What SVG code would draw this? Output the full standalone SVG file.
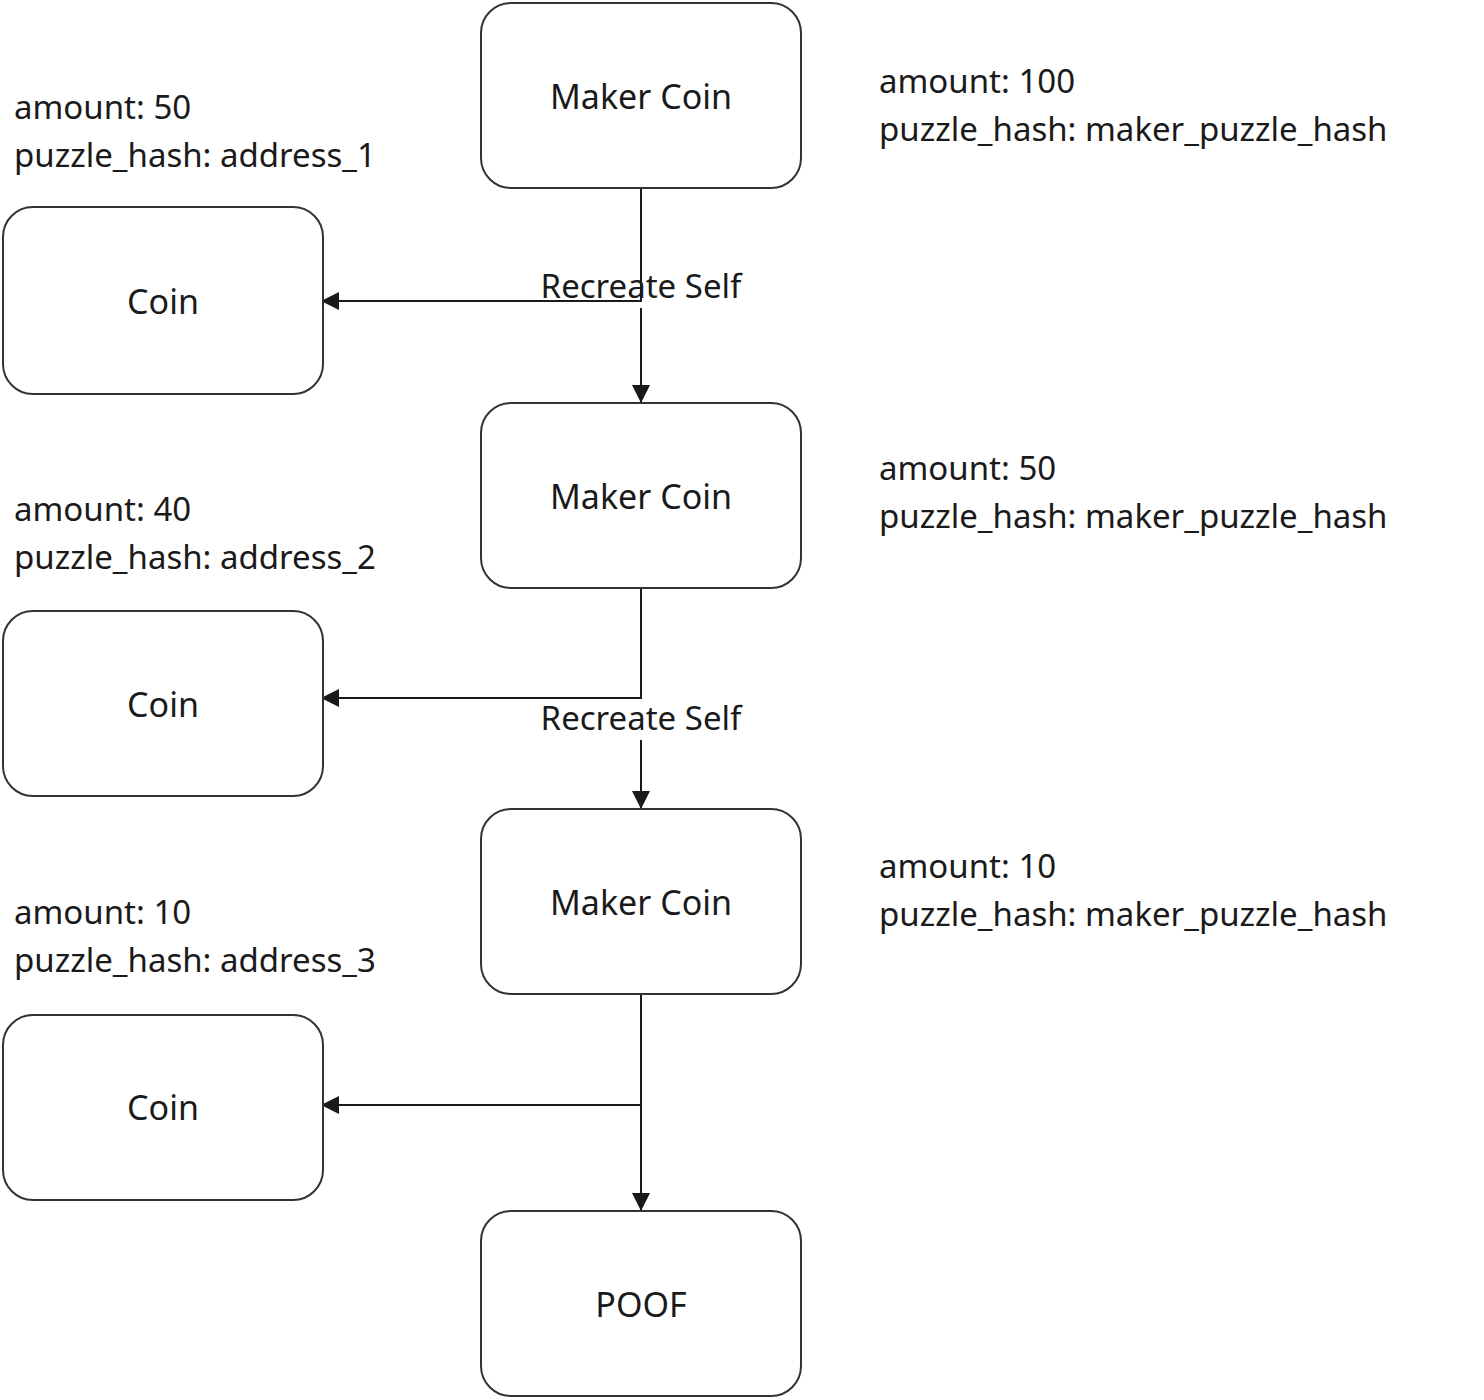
<svg xmlns="http://www.w3.org/2000/svg" width="1484" height="1400" viewBox="0 0 1484 1400">
<defs>
<style>
.box{fill:#fff;stroke:#333;stroke-width:2}
.t{font-family:"Noto Sans","Open Sans","DejaVu Sans",sans-serif;font-size:33px;fill:#1a1a1a}
.b{font-size:34px}
.c{text-anchor:middle}
.ln{fill:none;stroke:#1a1a1a;stroke-width:2}
</style>
<marker id="ah" viewBox="0 0 18 18" refX="17" refY="9" markerWidth="18" markerHeight="18" markerUnits="userSpaceOnUse" orient="auto">
<path d="M0,0 L18,9 L0,18 Z" fill="#1a1a1a"/>
</marker>
</defs>
<rect width="1484" height="1400" fill="#fff"/>
<g id="connectors">
<path class="ln" d="M641,188 V301 H322" marker-end="url(#ah)"/>
<path class="ln" d="M641,308 V402" marker-end="url(#ah)"/>
<path class="ln" d="M641,588 V698 H322" marker-end="url(#ah)"/>
<path class="ln" d="M641,740 V808" marker-end="url(#ah)"/>
<path class="ln" d="M641,994 V1105 H322" marker-end="url(#ah)"/>
<path class="ln" d="M641,1105 V1210" marker-end="url(#ah)"/>
<text class="t c" x="641" y="298">Recreate Self</text>
<text class="t c" x="641" y="730">Recreate Self</text>
</g>
<g id="maker1"><rect class="box" x="481" y="3" width="320" height="185" rx="30"/><text class="t b c" x="641" y="109">Maker Coin</text></g>
<g id="maker2"><rect class="box" x="481" y="403" width="320" height="185" rx="30"/><text class="t b c" x="641" y="509">Maker Coin</text></g>
<g id="maker3"><rect class="box" x="481" y="809" width="320" height="185" rx="30"/><text class="t b c" x="641" y="915">Maker Coin</text></g>
<g id="poof"><rect class="box" x="481" y="1211" width="320" height="185" rx="30"/><text class="t b c" x="641" y="1317">POOF</text></g>
<g id="coin1"><rect class="box" x="3" y="207" width="320" height="187" rx="30"/><text class="t b c" x="163" y="314">Coin</text></g>
<g id="coin2"><rect class="box" x="3" y="611" width="320" height="185" rx="30"/><text class="t b c" x="163" y="717">Coin</text></g>
<g id="coin3"><rect class="box" x="3" y="1015" width="320" height="185" rx="30"/><text class="t b c" x="163" y="1120">Coin</text></g>
<g id="label-m1"><text class="t" x="879" y="93">amount: 100</text><text class="t" x="879" y="141">puzzle_hash: maker_puzzle_hash</text></g>
<g id="label-m2"><text class="t" x="879" y="480">amount: 50</text><text class="t" x="879" y="528">puzzle_hash: maker_puzzle_hash</text></g>
<g id="label-m3"><text class="t" x="879" y="878">amount: 10</text><text class="t" x="879" y="926">puzzle_hash: maker_puzzle_hash</text></g>
<g id="label-c1"><text class="t" x="14" y="119">amount: 50</text><text class="t" x="14" y="167">puzzle_hash: address_1</text></g>
<g id="label-c2"><text class="t" x="14" y="521">amount: 40</text><text class="t" x="14" y="569">puzzle_hash: address_2</text></g>
<g id="label-c3"><text class="t" x="14" y="924">amount: 10</text><text class="t" x="14" y="972">puzzle_hash: address_3</text></g>
</svg>
